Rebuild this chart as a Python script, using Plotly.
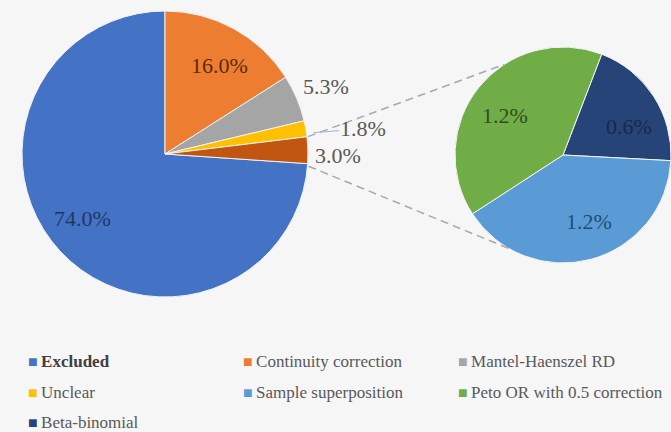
import math
import plotly.graph_objects as go

W, H = 671, 432
MB = 110                 # bottom margin: the legend entries live below the plot area
PH = H - MB              # plot-area height
FONT = "Liberation Serif"

# Main pie: share of studies by handling method (percent)
main_labels = ["Excluded", "Continuity correction", "Mantel-Haenszel RD", "Unclear", "Other"]
main_values = [74.0, 16.0, 5.3, 1.8, 3.0]
main_colors = ["#4472C4", "#ED7D31", "#A5A5A5", "#FFC000", "#C0560F"]
main_text_colors = ["#1F3864", "#5B2C0B", "#595959", "#595959", "#595959"]

# Breakdown of the "Other" slice (percent)
sub_labels = ["Beta-binomial", "Sample superposition", "Peto OR with 0.5 correction"]
sub_values = [0.6, 1.2, 1.2]
sub_colors = ["#264478", "#5B9BD5", "#70AD47"]
sub_text_colors = ["#16294A", "#1F4E79", "#2F4F1C"]

# Legend layout: three columns, filled row by row
legend_order = ["Excluded", "Continuity correction", "Mantel-Haenszel RD",
                "Unclear", "Sample superposition", "Peto OR with 0.5 correction",
                "Beta-binomial"]

color_of = dict(zip(main_labels + sub_labels, main_colors + sub_colors))

# pixel boxes (left, top, right, bottom) for the two pies
main_box = (22, 11, 308, 297)
sub_box = (455, 47, 671, 263)
LABEL_SIZE = 22

# radial position of each main-pie label (fraction of radius) and small pixel nudges
main_label_frac = [0.76, 0.73, 1.22, 1.38, 1.21]
main_label_nudge = [(-3, 10), (4, -3), (0, 0), (0, 0), (0, -6)]
SUB_LABEL_FRAC = 0.66
sub_label_nudge = [(6, -10), (8, 2), (-3, -5)]

LEGEND_COLS_PX = [29, 244, 459]
LEGEND_ROWS_PX = [361, 392, 422]


def px_to_paper(x, y):
    return x / W, (PH - y) / PH


def dom(box):
    l, t, r, b = box
    x0, y0 = px_to_paper(l, b)
    x1, y1 = px_to_paper(r, t)
    return dict(x=[x0, x1], y=[y0, y1])


def on_circle(cx, cy, r, deg):
    a = math.radians(deg)
    return cx + r * math.sin(a), cy - r * math.cos(a)


def slice_angles(values, rotation):
    """(start, end) of each clockwise slice, degrees from 12 o'clock."""
    total = sum(values)
    out, acc = [], rotation
    for v in values:
        span = 360 * v / total
        out.append((acc, acc + span))
        acc += span
    return out


# Excluded slice starts after the other main slices, so the small slices sit at 12-3 o'clock
main_rotation = 360 * sum(main_values[1:]) / sum(main_values)
sub_rotation = 21
main_ang = slice_angles(main_values, main_rotation)
sub_ang = slice_angles(sub_values, sub_rotation)

mcx, mcy = (main_box[0] + main_box[2]) / 2, (main_box[1] + main_box[3]) / 2
mr = (main_box[2] - main_box[0]) / 2
scx, scy = (sub_box[0] + sub_box[2]) / 2, (sub_box[1] + sub_box[3]) / 2
sr = (sub_box[2] - sub_box[0]) / 2

fig = go.Figure()

fig.add_trace(go.Pie(
    labels=main_labels, values=main_values, sort=False,
    direction="clockwise", rotation=main_rotation,
    domain=dom(main_box),
    marker=dict(colors=main_colors, line=dict(color="#F2F2F2", width=1)),
    textinfo="none", showlegend=False, hoverinfo="label+value",
))

fig.add_trace(go.Pie(
    labels=sub_labels, values=sub_values, sort=False,
    direction="clockwise", rotation=sub_rotation,
    domain=dom(sub_box),
    marker=dict(colors=sub_colors, line=dict(color="#F2F2F2", width=1)),
    textinfo="none", showlegend=False, hoverinfo="label+value",
))

annotations = []


def value_label(value, cx, cy, r, ang, frac, color, nudge):
    x, y = px_to_paper(*on_circle(cx, cy, r * frac, (ang[0] + ang[1]) / 2))
    return dict(x=x, y=y, xref="paper", yref="paper", text=f"{value:.1f}%", showarrow=False,
                xanchor="center", yanchor="middle", xshift=nudge[0], yshift=nudge[1],
                font=dict(family=FONT, size=LABEL_SIZE, color=color))


for i, (v, ang, c, f, n) in enumerate(zip(main_values, main_ang, main_text_colors,
                                          main_label_frac, main_label_nudge)):
    if main_labels[i] == "Unclear":
        continue
    annotations.append(value_label(v, mcx, mcy, mr, ang, f, c, n))

for v, ang, c, n in zip(sub_values, sub_ang, sub_text_colors, sub_label_nudge):
    annotations.append(value_label(v, scx, scy, sr, ang, SUB_LABEL_FRAC, c, n))

# Unclear label, pulled to the right with a leader line
u = main_labels.index("Unclear")
u_mid = (main_ang[u][0] + main_ang[u][1]) / 2
tx, ty = px_to_paper(*on_circle(mcx, mcy, mr + 7, u_mid + 2))
annotations.append(dict(
    x=tx, y=ty, xref="paper", yref="paper", text=f"{main_values[u]:.1f}%",
    showarrow=True, arrowhead=0, arrowwidth=1, arrowcolor="#9FB3CC", standoff=0,
    ax=50, ay=-4, xanchor="center", yanchor="middle",
    font=dict(family=FONT, size=LABEL_SIZE, color=main_text_colors[u]),
))

# connector lines from the "Other" slice to the breakdown pie
o = main_labels.index("Other")
shapes = []
for a_main, a_sub in [(main_ang[o][0], 327), (main_ang[o][1] + 1, 210)]:
    x0, y0 = px_to_paper(*on_circle(mcx, mcy, mr + 1, a_main))
    x1, y1 = px_to_paper(*on_circle(scx, scy, sr, a_sub))
    shapes.append(dict(type="line", xref="paper", yref="paper", x0=x0, y0=y0, x1=x1, y1=y1,
                       line=dict(color="#A3AAB6", width=1.5, dash="8px,5px")))

# one single-entry legend per cell; the coloured square is part of the entry text
legend_common = dict(
    orientation="v", xanchor="left", yanchor="middle", itemwidth=30,
    font=dict(family=FONT, size=17, color="#595959"),
    bgcolor="rgba(0,0,0,0)", borderwidth=0, itemclick=False, itemdoubleclick=False,
)
layout_legends = {}
for k, name in enumerate(legend_order):
    lg = "legend" if k == 0 else f"legend{k + 1}"
    col_px = LEGEND_COLS_PX[k % 3]
    row_px = LEGEND_ROWS_PX[k // 3]
    sq = f"<span style='color:{color_of[name]};font-size:16px'>■</span>\u2009"
    body = f"<b><span style='color:#404040'>{name}</span></b>" if name == "Excluded" else name
    fig.add_trace(go.Scatter(
        x=[None], y=[None], mode="markers", name=sq + body, legend=lg,
        marker=dict(symbol="square", size=1, color="rgba(0,0,0,0)", opacity=0),
        showlegend=True, hoverinfo="skip",
    ))
    lx, ly = px_to_paper(col_px - 41, row_px)
    layout_legends[lg] = dict(legend_common, x=lx, y=ly)

fig.update_layout(
    width=W, height=H,
    margin=dict(l=0, r=0, t=0, b=MB, autoexpand=False),
    paper_bgcolor="#F6F6F6", plot_bgcolor="#F6F6F6",
    font=dict(family=FONT, color="#595959"),
    xaxis=dict(visible=False), yaxis=dict(visible=False),
    shapes=shapes, annotations=annotations,
    **layout_legends,
)

fig.write_html("out.html")
